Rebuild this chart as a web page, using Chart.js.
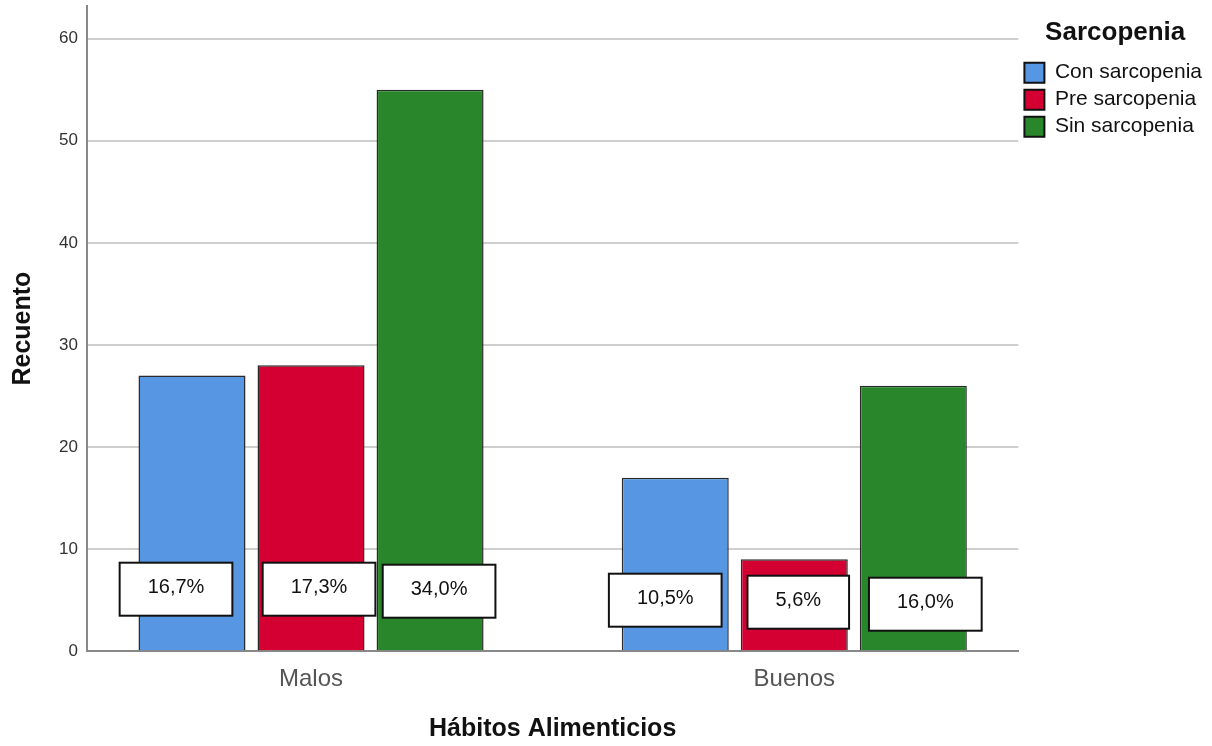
<!DOCTYPE html>
<html>
<head>
<meta charset="utf-8">
<script src="https://cdn.jsdelivr.net/npm/chart.js@4"></script>
<style>
  body { margin: 0; background: #fff; }
  #wrap { width: 1212px; height: 746px; }
</style>
</head>
<body>
<div id="wrap"><canvas id="chart" width="1212" height="746"></canvas></div>
<script>
// Datos
const categorias = ['Malos', 'Buenos'];
const series = ['Con sarcopenia', 'Pre sarcopenia', 'Sin sarcopenia'];
const conSarcopenia = [27, 17];
const preSarcopenia = [28, 9];
const sinSarcopenia = [55, 26];
const pctCon = ['16,7%', '10,5%'];
const pctPre = ['17,3%', '5,6%'];
const pctSin = ['34,0%', '16,0%'];
const yTicks = [0, 10, 20, 30, 40, 50, 60];

const colores = ['#5696e3', '#d50032', '#2a862b'];
const valores = [conSarcopenia, preSarcopenia, sinSarcopenia];
const porcentajes = [pctCon, pctPre, pctSin];

// Desplazamientos de las etiquetas (px) respecto al centro de la barra y la base
const labelOffsets = [
    [[-16, 62], [-10, 51]],
    [[8, 62], [4, 49]],
    [[9, 60], [12, 47]]
];

const font = "'Liberation Sans', Arial, sans-serif";

// Plugin para las cajas de porcentaje
const boxLabels = {
    id: 'boxLabels',
    afterDatasetsDraw(chart) {
        const ctx = chart.ctx;
        const base = chart.scales.y.getPixelForValue(0);
        ctx.save();
        ctx.font = '20px ' + font;
        ctx.textAlign = 'center';
        ctx.textBaseline = 'middle';
        chart.data.datasets.forEach((ds, i) => {
            chart.getDatasetMeta(i).data.forEach((bar, j) => {
                const txt = porcentajes[i][j];
                const off = labelOffsets[i][j];
                const cx = bar.x + off[0];
                const cy = base - off[1];
                const w = ctx.measureText(txt).width + 56;
                const h = 53;
                ctx.fillStyle = '#fff';
                ctx.fillRect(cx - w / 2, cy - h / 2, w, h);
                ctx.lineWidth = 2;
                ctx.strokeStyle = '#111';
                ctx.strokeRect(cx - w / 2, cy - h / 2, w, h);
                ctx.fillStyle = '#111';
                ctx.fillText(txt, cx, cy - 2);
            });
        });
        ctx.restore();
    }
};

new Chart(document.getElementById('chart'), {
    type: 'bar',
    data: {
        datasets: series.map((name, i) => ({
            label: name,
            data: valores[i].map((v, j) => ({ x: j, y: v })),
            backgroundColor: colores[i],
            borderColor: '#2a2a2a',
            borderWidth: 1.5,
            categoryPercentage: 0.739,
            barPercentage: 0.899
        }))
    },
    options: {
        responsive: false,
        animation: false,
        layout: { padding: { top: 6, right: 0, left: 8, bottom: 2 } },
        plugins: {
            tooltip: { enabled: false },
            legend: {
                position: 'right',
                align: 'start',
                title: {
                    display: true,
                    text: 'Sarcopenia',
                    color: '#111',
                    font: { family: font, size: 26, weight: 'bold' },
                    padding: { top: 14, bottom: 5 }
                },
                labels: {
                    color: '#222',
                    font: { family: font, size: 21 },
                    boxWidth: 20,
                    boxHeight: 20,
                    padding: 6,
                    generateLabels(chart) {
                        return chart.data.datasets.map((ds, i) => ({
                            text: ds.label,
                            fillStyle: ds.backgroundColor,
                            strokeStyle: '#111',
                            lineWidth: 2,
                            datasetIndex: i
                        }));
                    }
                }
            }
        },
        scales: {
            x: {
                type: 'linear',
                offset: false,
                min: -0.4638,
                max: 1.4638,
                afterBuildTicks(scale) {
                    scale.ticks = categorias.map((c, i) => ({ value: i }));
                },
                grid: { display: false, offset: false },
                border: { display: true, color: '#888', width: 2 },
                ticks: {
                    color: '#555',
                    font: { family: font, size: 24 },
                    padding: 6,
                    autoSkip: false,
                    maxRotation: 0,
                    callback: (v) => categorias[v]
                },
                title: {
                    display: true,
                    text: 'Hábitos Alimenticios',
                    color: '#111',
                    font: { family: font, size: 25, weight: 'bold' },
                    padding: { top: 14, bottom: 0 }
                }
            },
            y: {
                min: 0,
                max: 63.2,
                afterBuildTicks(scale) {
                    scale.ticks = yTicks.map(v => ({ value: v }));
                },
                afterFit(scale) {
                    scale.paddingTop = 0;
                },
                grid: { color: '#cfcfcf', lineWidth: 2, drawTicks: false },
                border: { display: true, color: '#888', width: 2 },
                ticks: {
                    color: '#333',
                    font: { family: font, size: 17 },
                    padding: 9
                },
                title: {
                    display: true,
                    text: 'Recuento',
                    color: '#111',
                    font: { family: font, size: 25, weight: 'bold' },
                    padding: { top: 0, bottom: 12 }
                }
            }
        }
    },
    plugins: [boxLabels]
});
</script>
</body>
</html>
